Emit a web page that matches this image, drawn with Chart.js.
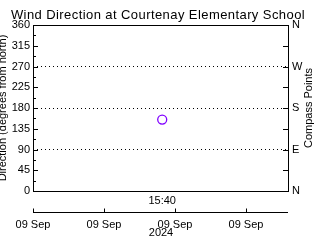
<!DOCTYPE html>
<html><head><meta charset="utf-8">
<style>html,body{margin:0;padding:0;background:#fff;overflow:hidden}</style>
<script src="https://cdn.jsdelivr.net/npm/chart.js@4/dist/chart.umd.min.js"></script>
</head><body>
<canvas id="c" width="320" height="240" style="width:320px;height:240px;display:block"></canvas>
<script>
// ---- data ----
const titleText = 'Wind Direction at Courtenay Elementary School';
const leftAxisTitle = 'Direction (degrees from north)';
const rightAxisTitle = 'Compass Points';
const pointTimes = [1.82];                 // position along time axis (tick units)
const pointTimeLabels = ['15:40'];
const directions = [155];                  // degrees from north
const xTickValues = [0, 1, 2, 3];
const xTickLabels = ['09 Sep', '09 Sep', '09 Sep', '09 Sep'];
const xMin = 0, xMax = 3.606;
const xAxisYear = '2024';
const dirTickValues = [0, 45, 90, 135, 180, 225, 270, 315, 360];
const dirMinorTicks = [22.5, 67.5, 112.5, 157.5, 202.5, 247.5, 292.5, 337.5];
const compassLabels = ['N', '', 'E', '', 'S', '', 'W', '', 'N'];
const gridValues = [90, 180, 270];

const FONT = "'Liberation Sans', Arial, sans-serif";
const INK = '#000';
const TITLE_WIDTH = 294;   // width of the title line in the reference

const framePlugin = {
  id: 'frame',
  afterDraw(chart) {
    const {ctx, chartArea: a} = chart;
    const xs = chart.scales.x, ys = chart.scales.y;
    ctx.save();
    ctx.strokeStyle = INK; ctx.lineWidth = 1;
    ctx.strokeRect(Math.round(a.left) + 0.5, Math.round(a.top) + 0.5,
      Math.round(a.right - a.left) - 1, Math.round(a.bottom - a.top));
    ctx.beginPath();
    dirTickValues.forEach(v => {
      const y = Math.round(ys.getPixelForValue(v)) + 0.5;
      ctx.moveTo(a.left, y); ctx.lineTo(a.left + 5, y);
      ctx.moveTo(a.right - 6, y); ctx.lineTo(a.right, y);
    });
    dirMinorTicks.forEach(v => {
      const y = Math.round(ys.getPixelForValue(v)) + 0.5;
      ctx.moveTo(a.left, y); ctx.lineTo(a.left + 3, y);
    });
    const ay = Math.round(a.bottom) + 21.5;
    ctx.moveTo(xs.getPixelForValue(xMin), ay); ctx.lineTo(a.right - 1, ay);
    xTickValues.forEach(v => {
      const x = Math.round(xs.getPixelForValue(v)) + 0.5;
      ctx.moveTo(x, ay); ctx.lineTo(x, ay - 4);
    });
    ctx.stroke();
    ctx.fillStyle = INK;
    ctx.font = '11px ' + FONT;
    ctx.textAlign = 'center'; ctx.textBaseline = 'middle';
    pointTimes.forEach((t, i) => {
      ctx.fillText(pointTimeLabels[i], xs.getPixelForValue(t), a.bottom + 10);
    });
    ctx.translate(309, (a.top + a.bottom) / 2);
    ctx.rotate(-Math.PI / 2);
    ctx.fillText(rightAxisTitle, 0, 0);
    ctx.restore();
  }
};

const chart = new Chart(document.getElementById('c'), {
  type: 'scatter',
  data: {
    datasets: [{
      data: pointTimes.map((t, i) => ({x: t, y: directions[i]})),
      pointStyle: 'circle',
      pointRadius: 4.5,
      borderColor: '#8000ff',
      backgroundColor: 'rgba(0,0,0,0)',
      borderWidth: 1.3,
      xAxisID: 'x', yAxisID: 'y'
    }]
  },
  options: {
    responsive: false, animation: false, devicePixelRatio: 1,
    layout: {padding: {left: -4, right: 0, top: 0, bottom: 0}},
    plugins: {
      legend: {display: false}, tooltip: {enabled: false},
      title: {display: true, text: titleText, color: INK,
        font: {family: FONT, size: 13, weight: 'normal', lineHeight: 1.2},
        padding: {top: 7.5, bottom: 1.9}}
    },
    scales: {
      x: {
        type: 'linear', position: 'bottom', min: xMin, max: xMax,
        afterBuildTicks: s => { s.ticks = xTickValues.map(v => ({value: v})); },
        afterFit: s => { s.height = 49; s.paddingLeft = 0; s.paddingRight = 0; },
        grid: {display: false, drawTicks: false}, border: {display: false},
        ticks: {callback: (v, i) => xTickLabels[i], padding: 27, color: INK,
          font: {family: FONT, size: 11}, maxRotation: 0, autoSkip: false},
        title: {display: true, text: xAxisYear, color: INK,
          font: {family: FONT, size: 11}, padding: {top: 0, bottom: 0}}
      },
      y: {
        position: 'left', min: 0, max: 360,
        afterBuildTicks: s => { s.ticks = dirTickValues.map(v => ({value: v})); },
        afterFit: s => { s.width = 37; s.paddingTop = 0; s.paddingBottom = 0; },
        grid: {drawTicks: false, lineWidth: 1,
          color: c => gridValues.includes(c.tick && c.tick.value) ? INK : 'rgba(0,0,0,0)'},
        border: {display: false, dash: [1, 3]},
        ticks: {padding: 3, color: INK, font: {family: FONT, size: 11}, autoSkip: false},
        title: {display: true, text: leftAxisTitle, color: INK,
          font: {family: FONT, size: 11}, padding: 0}
      },
      y2: {
        position: 'right', min: 0, max: 360,
        afterBuildTicks: s => { s.ticks = dirTickValues.map(v => ({value: v})); },
        afterFit: s => { s.width = 31; s.paddingTop = 0; s.paddingBottom = 0; },
        grid: {display: false, drawTicks: false}, border: {display: false},
        ticks: {padding: 3, color: INK, font: {family: FONT, size: 11}, autoSkip: false,
          callback: (v, i) => compassLabels[i]}
      }
    }
  },
  plugins: [framePlugin]
});

// widen the title letter spacing so the line spans the same width as the reference
if (chart.titleBlock) {
  const tb = chart.titleBlock;
  const orig = tb.draw.bind(tb);
  tb.draw = function () {
    const ctx = this.ctx;
    ctx.save();
    ctx.font = '13px ' + FONT;
    ctx.letterSpacing = '0px';
    const natural = ctx.measureText(titleText).width;
    const n = titleText.length;
    const sp = Math.max(0, (TITLE_WIDTH - natural) / n);
    ctx.letterSpacing = sp.toFixed(2) + 'px';
    orig();
    ctx.restore();
  };
  chart.draw();
}
</script>
</body></html>
